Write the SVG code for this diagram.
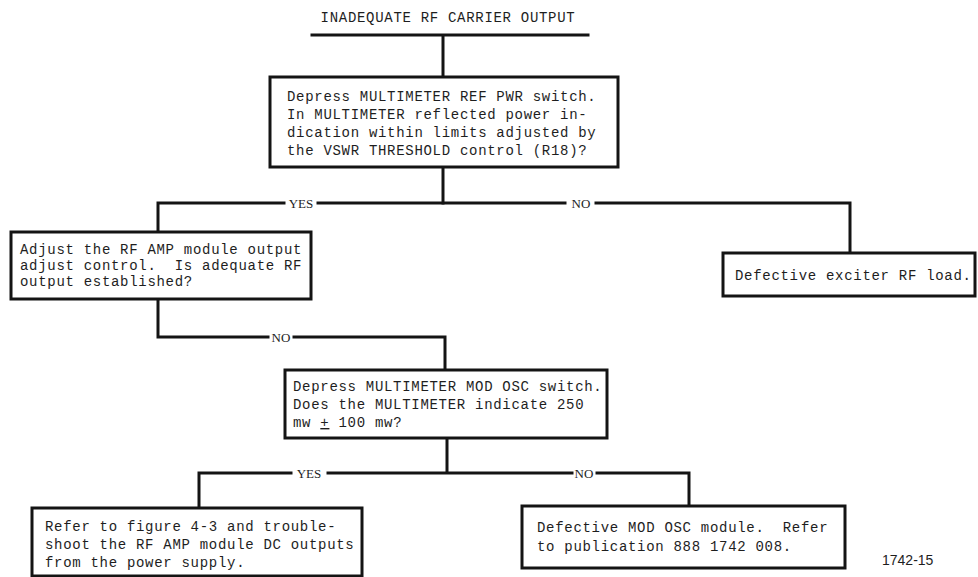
<svg xmlns="http://www.w3.org/2000/svg" width="978" height="577" viewBox="0 0 978 577">
  <style>
    .box { fill: #fff; stroke: #141414; stroke-width: 3; }
    .wire { fill: none; stroke: #141414; stroke-width: 3; stroke-linecap: square; }
    .txt { font-family: "Liberation Mono", "DejaVu Sans Mono", monospace; font-size: 14px; letter-spacing: 0.7px; fill: #1e1e1e; white-space: pre; }
    .lbl { font-family: "Liberation Serif", "DejaVu Serif", serif; font-size: 13px; fill: #1e1e1e; text-anchor: middle; }
    .fig { font-family: "Liberation Sans", "DejaVu Sans", sans-serif; font-size: 14px; fill: #1e1e1e; }
  </style>
  <rect width="978" height="577" fill="#fff"/>

  <!-- title -->
  <g id="title">
    <text class="txt" x="448" y="22" text-anchor="middle">INADEQUATE RF CARRIER OUTPUT</text>
  </g>

  <!-- connectors -->
  <g id="connectors">
    <path class="wire" d="M312,35 H588 M443,35 V77"/>
    <path class="wire" d="M443,167 V203"/>
    <path class="wire" d="M284,203 H158 V232 M318,203 H565 M596,203 H850 V253"/>
    <path class="wire" d="M158,299 V337 H268 M294,337 H445 V370"/>
    <path class="wire" d="M447,438 V473 M291,473 H199 V508 M328,473 H572 M597,473 H689 V506"/>
    <text class="lbl" x="301" y="208">YES</text>
    <text class="lbl" x="581" y="208">NO</text>
    <text class="lbl" x="281" y="342">NO</text>
    <text class="lbl" x="309" y="478">YES</text>
    <text class="lbl" x="584" y="478">NO</text>
  </g>

  <g id="ref-pwr-check">
    <rect class="box" x="270" y="77" width="348" height="90"/>
    <text class="txt" x="287" y="101">Depress MULTIMETER REF PWR switch.</text>
    <text class="txt" x="287" y="119">In MULTIMETER reflected power in-</text>
    <text class="txt" x="287" y="137">dication within limits adjusted by</text>
    <text class="txt" x="287" y="155">the VSWR THRESHOLD control (R18)?</text>
  </g>

  <g id="rf-amp-adjust">
    <rect class="box" x="11" y="232" width="300" height="67"/>
    <text class="txt" x="20" y="254">Adjust the RF AMP module output</text>
    <text class="txt" x="20" y="270">adjust control.  Is adequate RF</text>
    <text class="txt" x="20" y="286">output established?</text>
  </g>

  <g id="exciter-load">
    <rect class="box" x="723" y="253" width="252" height="43"/>
    <text class="txt" x="735" y="280">Defective exciter RF load.</text>
  </g>

  <g id="mod-osc-check">
    <rect class="box" x="285" y="370" width="322" height="68"/>
    <text class="txt" x="293" y="391">Depress MULTIMETER MOD OSC switch.</text>
    <text class="txt" x="293" y="409">Does the MULTIMETER indicate 250</text>
    <text class="txt" x="293" y="427">mw <tspan text-decoration="underline">+</tspan> 100 mw?</text>
  </g>

  <g id="dc-outputs">
    <rect class="box" x="32" y="508" width="330" height="68"/>
    <text class="txt" x="45" y="531">Refer to figure 4-3 and trouble-</text>
    <text class="txt" x="45" y="549">shoot the RF AMP module DC outputs</text>
    <text class="txt" x="45" y="567">from the power supply.</text>
  </g>

  <g id="mod-osc-defect">
    <rect class="box" x="522" y="506" width="323" height="62"/>
    <text class="txt" x="537" y="532">Defective MOD OSC module.  Refer</text>
    <text class="txt" x="537" y="551">to publication 888 1742 008.</text>
  </g>

  <text class="fig" x="882" y="565">1742-15</text>
</svg>
